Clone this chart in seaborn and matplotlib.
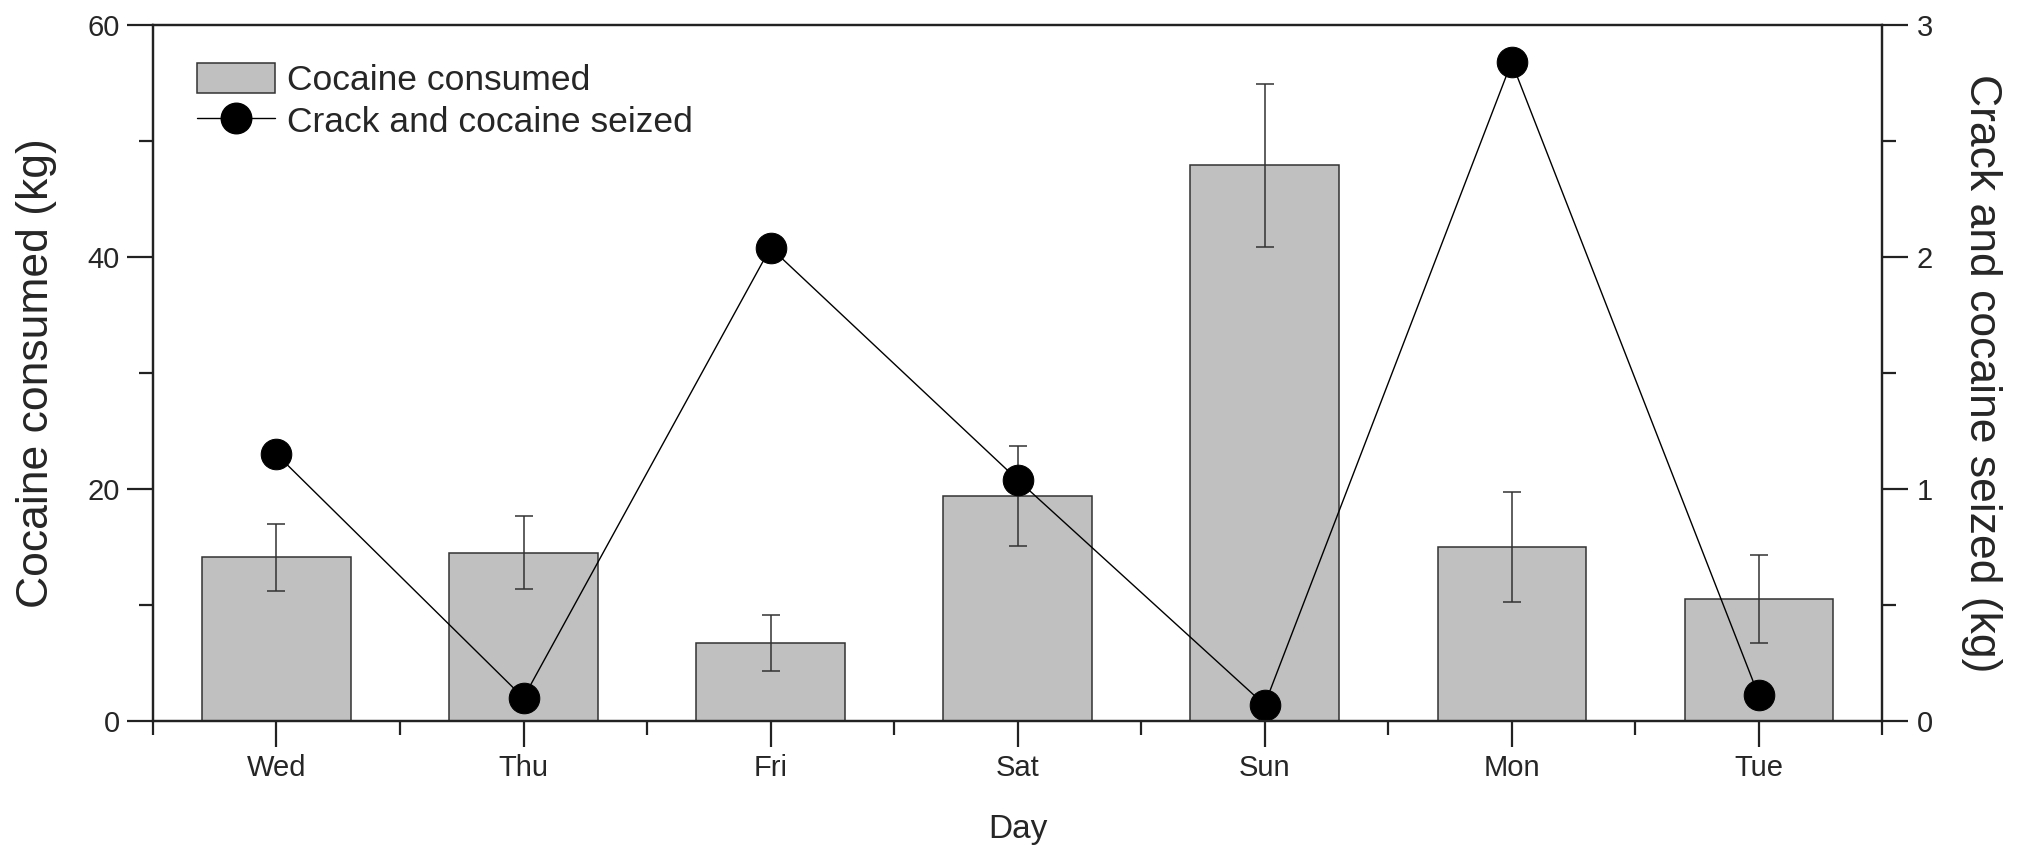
import numpy as np
import pandas as pd
import seaborn as sns
import matplotlib.pyplot as plt
from matplotlib.patches import Patch
from matplotlib.lines import Line2D
from matplotlib.ticker import MultipleLocator

days = ["Wed", "Thu", "Fri", "Sat", "Sun", "Mon", "Tue"]
consumed = [14.1, 14.5, 6.7, 19.4, 47.9, 15.0, 10.5]
consumed_err = [2.85, 3.15, 2.4, 4.3, 7.05, 4.7, 3.8]
seized = [1.15, 0.10, 2.04, 1.04, 0.07, 2.84, 0.11]

sns.set_theme(style="ticks")
plt.rcParams["font.family"] = ["Liberation Sans", "DejaVu Sans"]

df = pd.DataFrame({"day": days, "consumed": consumed, "seized": seized})

fig, ax = plt.subplots(figsize=(20.26, 8.55), dpi=100)
fig.subplots_adjust(left=0.0755, right=0.929, top=0.9708, bottom=0.1567)

# bars + error bars (left axis)
sns.barplot(data=df, x="day", y="consumed", order=days, errorbar=None,
            color="#c0c0c0", saturation=1, width=0.6,
            edgecolor="#333333", linewidth=1.1, ax=ax)
ax.errorbar(np.arange(len(days)), consumed, yerr=consumed_err, fmt="none",
            ecolor="#333333", elinewidth=1.1, capsize=6.8, capthick=1.1)

ax.set_xlim(-0.5, 6.5)
ax.set_ylim(0, 60)
ax.yaxis.set_major_locator(MultipleLocator(20))
ax.yaxis.set_minor_locator(MultipleLocator(10))
ax.xaxis.set_minor_locator(MultipleLocator(1, offset=0.5))
ax.set_xlabel("Day", fontsize=24, labelpad=23)
ax.set_ylabel("Cocaine consumed (kg)", fontsize=32, labelpad=22)

# seized line (right axis)
ax2 = ax.twinx()
sns.lineplot(x=np.arange(len(days)), y=seized, ax=ax2, color="black",
             linewidth=1.0, marker="o", markersize=22, markeredgecolor="black")
ax2.set_ylim(0, 3)
ax2.yaxis.set_major_locator(MultipleLocator(1))
ax2.yaxis.set_minor_locator(MultipleLocator(0.5))
ax2.set_ylabel("Crack and cocaine seized (kg)", fontsize=32, labelpad=20,
               rotation=270, va="bottom")

for a in (ax, ax2):
    for s in a.spines.values():
        s.set_linewidth(1.6)
        s.set_color("#222222")
    a.tick_params(which="major", length=19, width=1.6, labelsize=21,
                  color="#222222", direction="out")
    a.tick_params(which="minor", length=10, width=1.6, color="#222222",
                  direction="out")
ax.tick_params(axis="x", which="major", pad=5)
ax.tick_params(axis="y", pad=5)
ax2.tick_params(axis="y", pad=6)

handles = [Patch(facecolor="#c0c0c0", edgecolor="#333333", linewidth=1.1),
           Line2D([], [], color="black", linewidth=1.0, marker="o",
                  markersize=22)]
ax2.legend(handles, ["Cocaine consumed", "Crack and cocaine seized"],
           loc="upper left", bbox_to_anchor=(0.0254, 0.946), frameon=False,
           fontsize=25.5, handlelength=2.2, handleheight=0.95,
           handletextpad=0.35, labelspacing=0.2, borderpad=0, borderaxespad=0)

plt.savefig("out.png", dpi=100)
